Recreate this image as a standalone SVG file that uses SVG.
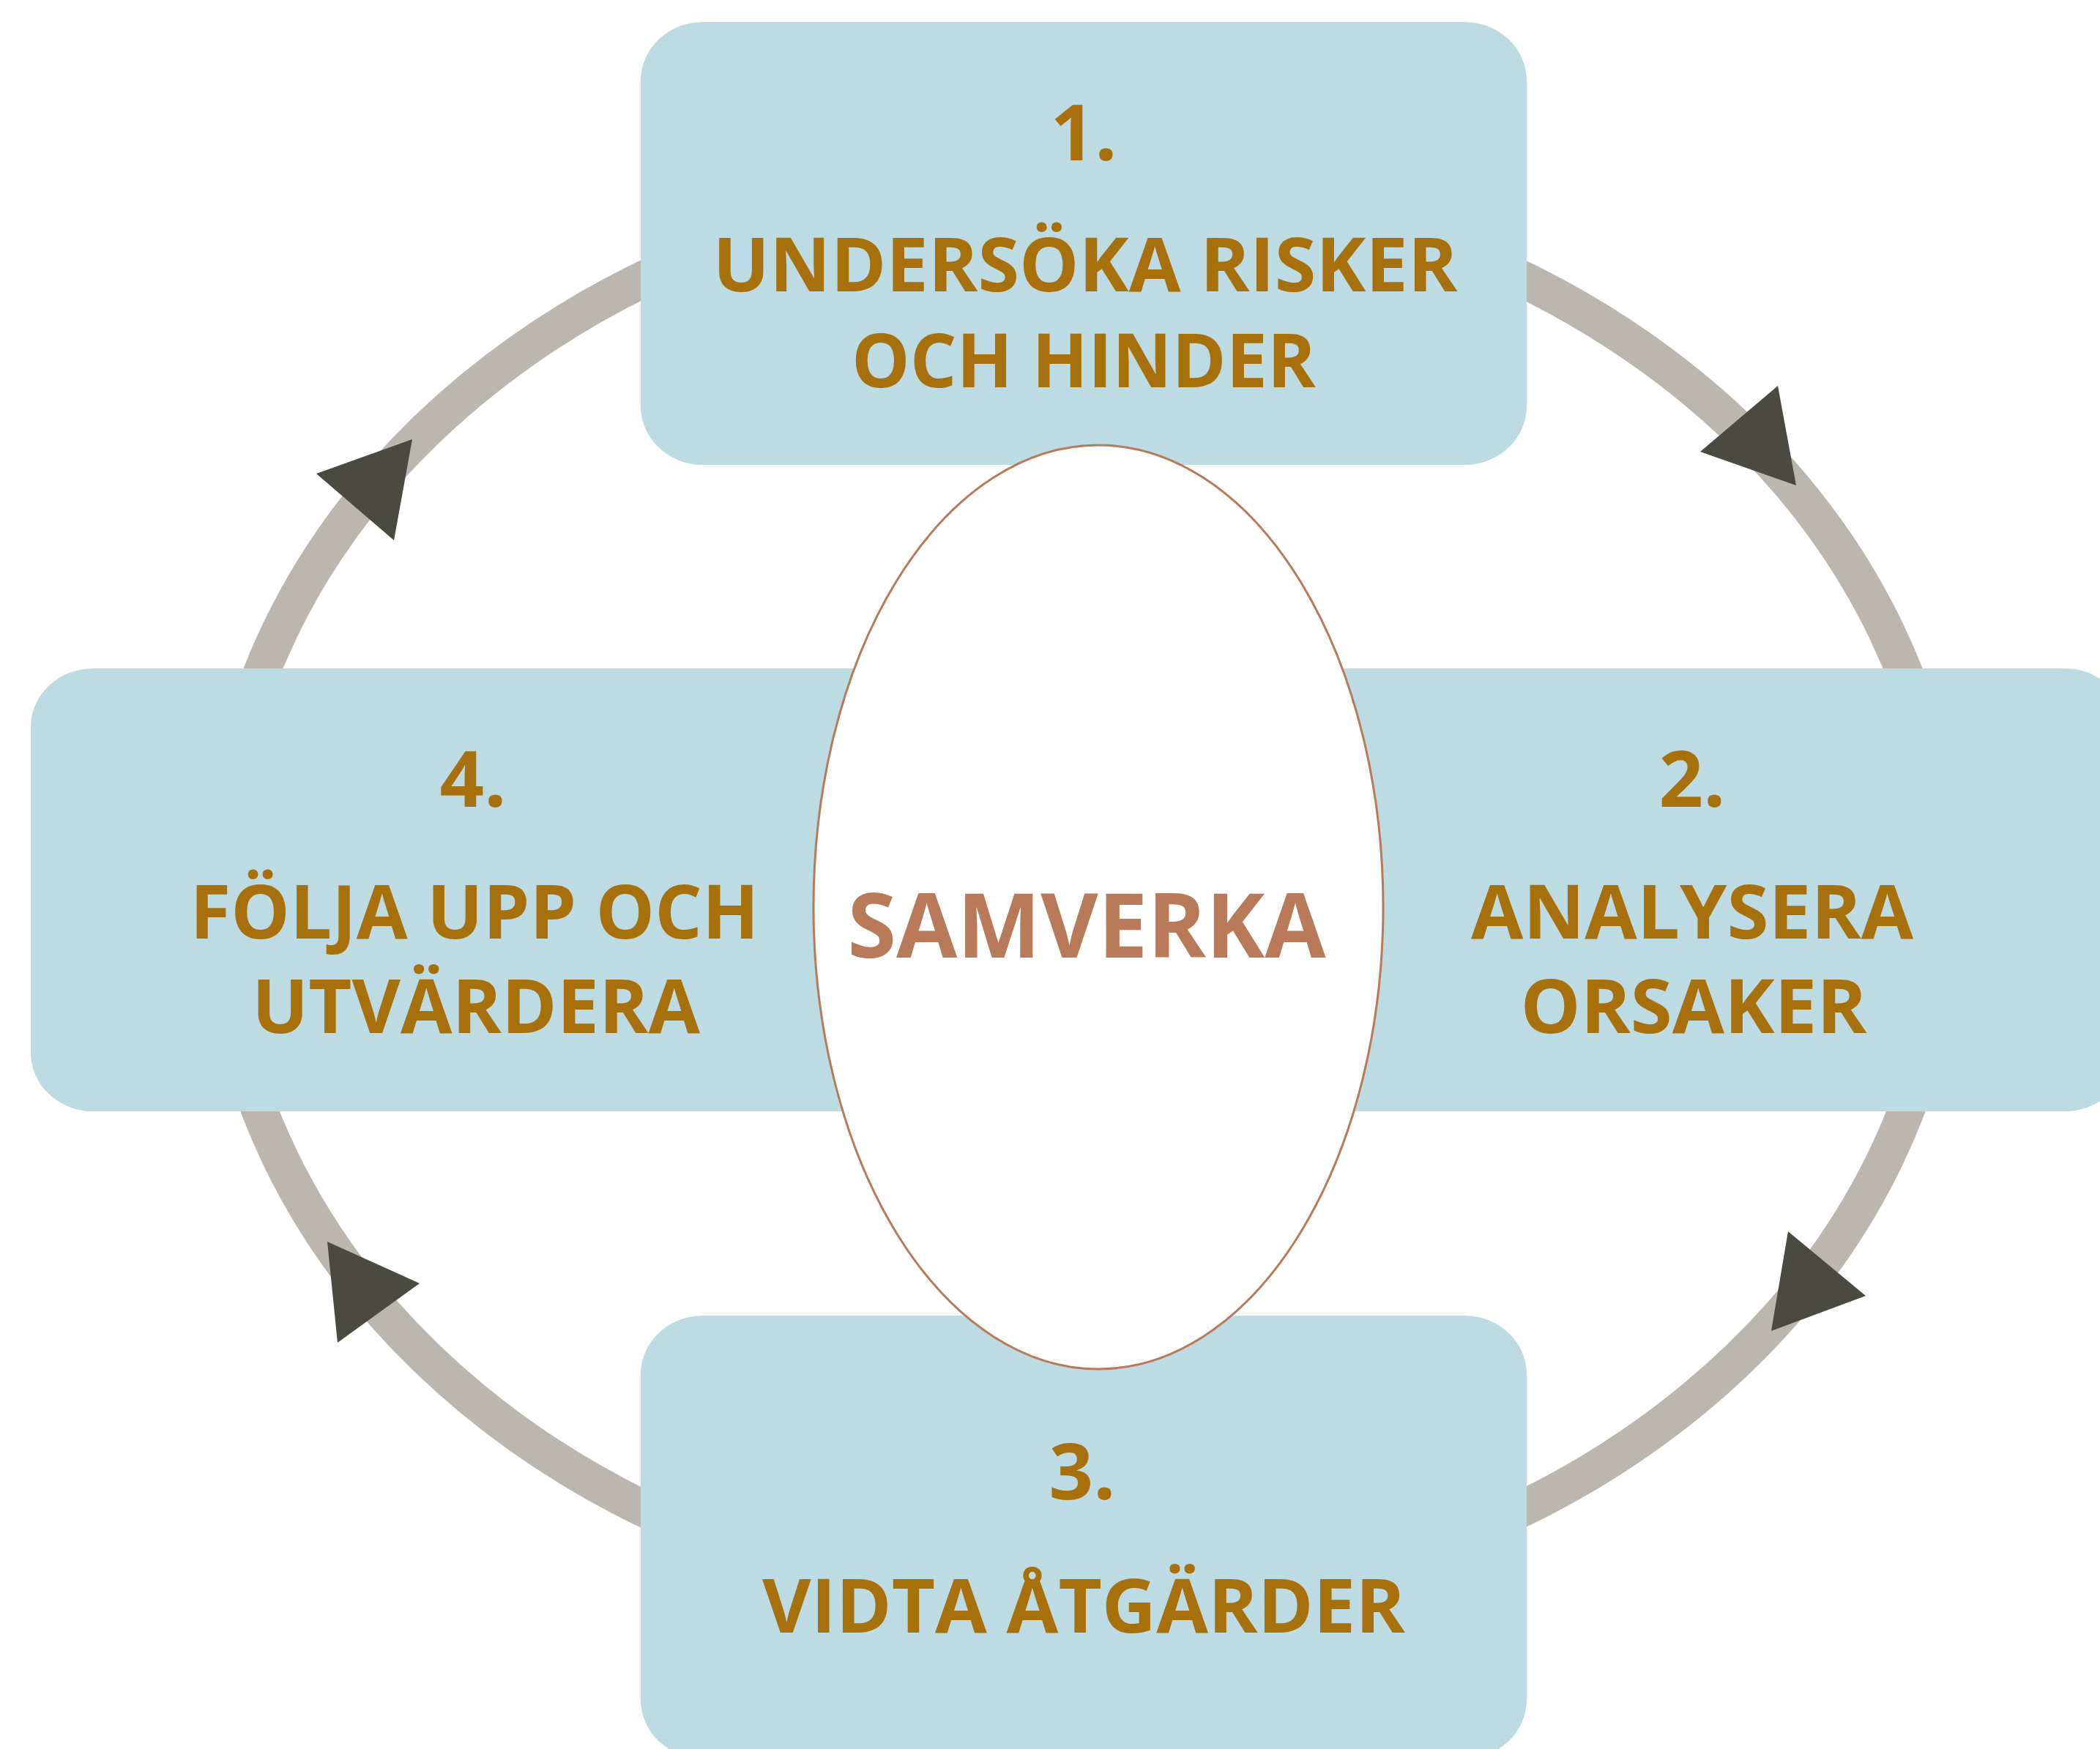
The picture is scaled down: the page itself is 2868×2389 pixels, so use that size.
<svg xmlns="http://www.w3.org/2000/svg" width="2868" height="2389" viewBox="0 0 2868 2389">
<style>
.box{fill:#bddbe3;}
.t{font-family:"Open Sans","Noto Sans","DejaVu Sans",sans-serif;font-weight:700;fill:#a8700a;text-anchor:middle;font-size:102px;}
.n{font-size:106px;}
.ring{fill:none;stroke:#bcb6b1;stroke-width:50;}
.ah{fill:#4b4a41;}
.center{fill:#ffffff;stroke:#b87a58;stroke-width:3;}
.c{font-family:"Open Sans","Noto Sans","DejaVu Sans",sans-serif;font-weight:700;fill:#b87a58;text-anchor:middle;font-size:122px;}
</style>
<rect width="2868" height="2389" fill="#ffffff"/>
<g id="connectors">
<ellipse class="ring" cx="1479" cy="1221" rx="1180" ry="975"/>
<polygon class="ah" points="2428,527 2322,617 2453,663"/>
<polygon class="ah" points="2442,1682 2548,1770 2419,1818"/>
<polygon class="ah" points="573,1753 461,1834 447,1696"/>
<polygon class="ah" points="432,647 538,738 563,600"/>
</g>
<g id="node1">
<rect class="box" x="875" y="30" width="1210" height="605" rx="85" ry="80"/>
<text class="t n" x="1480" y="219">1.</text>
<text class="t" x="1482" y="398" textLength="1017" lengthAdjust="spacingAndGlyphs">UNDERSÖKA RISKER</text>
<text class="t" x="1480" y="529" textLength="634" lengthAdjust="spacingAndGlyphs">OCH HINDER</text>
</g>
<g id="node2">
<rect class="box" x="1720" y="913" width="1185" height="605" rx="85" ry="80"/>
<text class="t n" x="2311" y="1102">2.</text>
<text class="t" x="2311" y="1282" textLength="604" lengthAdjust="spacingAndGlyphs">ANALYSERA</text>
<text class="t" x="2313" y="1411" textLength="473" lengthAdjust="spacingAndGlyphs">ORSAKER</text>
</g>
<g id="node3">
<rect class="box" x="875" y="1797" width="1210" height="605" rx="85" ry="80"/>
<text class="t n" x="1478" y="2048">3.</text>
<text class="t" x="1480" y="2230" textLength="878" lengthAdjust="spacingAndGlyphs">VIDTA ÅTGÄRDER</text>
</g>
<g id="node4">
<rect class="box" x="42" y="913" width="1208" height="605" rx="85" ry="80"/>
<text class="t n" x="646" y="1102">4.</text>
<text class="t" x="648" y="1282" textLength="777" lengthAdjust="spacingAndGlyphs">FÖLJA UPP OCH</text>
<text class="t" x="650" y="1411" textLength="612" lengthAdjust="spacingAndGlyphs">UTVÄRDERA</text>
</g>
<g id="center">
<ellipse class="center" cx="1500" cy="1239" rx="389" ry="631"/>
<text class="c" x="1484" y="1308" textLength="653" lengthAdjust="spacingAndGlyphs">SAMVERKA</text>
</g>
</svg>
